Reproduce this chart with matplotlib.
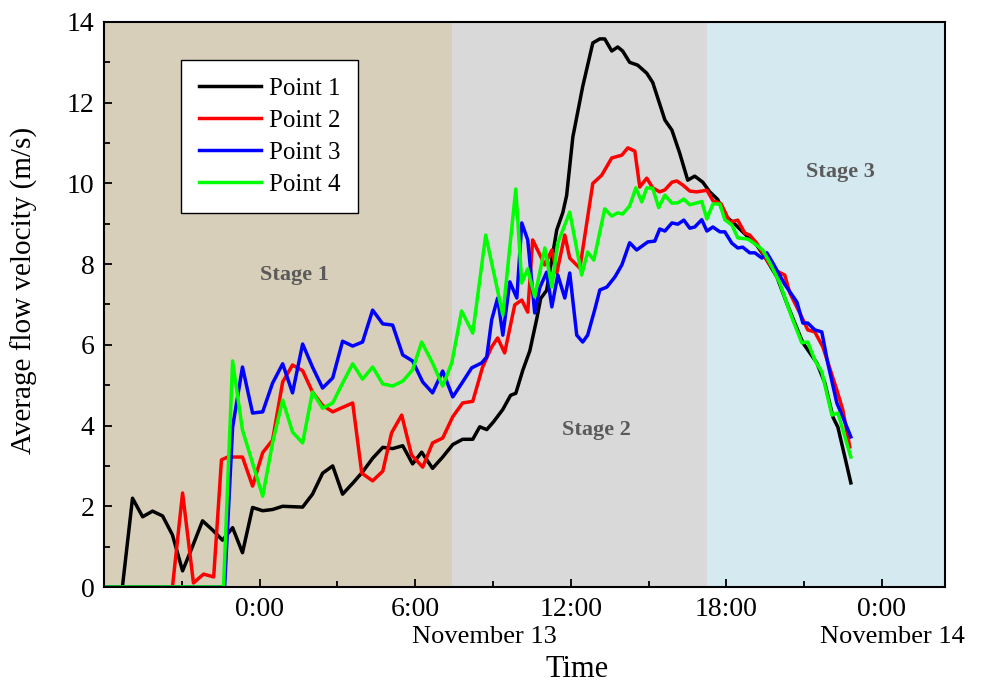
import numpy as np
import matplotlib.pyplot as plt
from matplotlib.transforms import blended_transform_factory

plt.rcParams['font.family'] = ['Liberation Serif', 'DejaVu Serif']

# hours relative to 0:00 on November 13, velocity in m/s
t1 = [-6.0, -5.29, -4.90, -4.51, -4.13, -3.74, -3.36, -2.97, -2.59, -2.20, -1.81, -1.43, -1.04,
      -0.66, -0.27, 0.12, 0.50, 0.89, 1.27, 1.66, 2.04, 2.43, 2.82, 3.20, 3.59, 3.97, 4.36, 4.75,
      5.13, 5.52, 5.90, 6.25, 6.67, 7.06, 7.45, 7.83, 8.22, 8.49, 8.76, 9.03, 9.38, 9.68, 9.88,
      10.15, 10.42, 10.69, 10.84, 11.07, 11.46, 11.69, 11.84, 12.08, 12.46, 12.85, 13.12, 13.31,
      13.58, 13.81, 14.00, 14.27, 14.58, 14.93, 15.16, 15.63, 15.90, 16.20, 16.51, 16.78, 17.09,
      17.36, 17.67, 17.94, 18.25, 18.63, 19.17, 19.56, 19.95, 20.33, 20.64, 20.95, 21.22, 21.49,
      21.80, 22.11, 22.30, 22.57, 22.80]
v1 = [0, 0, 2.2, 1.74, 1.88, 1.76, 1.29, 0.40, 1.0, 1.64, 1.41, 1.16, 1.47,
      0.85, 1.97, 1.89, 1.92, 2.0, 1.99, 1.98, 2.30, 2.82, 3.0, 2.30, 2.57, 2.85, 3.19, 3.46,
      3.43, 3.5, 3.05, 3.34, 2.94, 3.22, 3.53, 3.66, 3.66, 3.97, 3.9, 4.1, 4.4, 4.75, 4.8,
      5.37, 5.85, 6.65, 7.15, 7.35, 8.85, 9.27, 9.7, 11.15, 12.4, 13.48, 13.58, 13.58,
      13.28, 13.38, 13.28, 13.0, 12.93, 12.73, 12.5, 11.57, 11.32, 10.75, 10.08, 10.18, 10.03,
      9.79, 9.6, 9.2, 9.04, 8.8, 8.47, 8.1, 7.68, 7.03, 6.54, 6.05, 5.8, 5.55,
      5.05, 4.21, 3.96, 3.22, 2.58]

t2 = [-6.0, -3.36, -2.97, -2.55, -2.16, -1.77, -1.47, -1.23, -0.66, -0.27, 0.12, 0.50, 0.89,
      1.27, 1.66, 2.04, 2.43, 2.82, 3.20, 3.59, 3.94, 4.36, 4.75, 5.09, 5.48, 5.86, 6.29, 6.67,
      7.06, 7.45, 7.83, 8.22, 8.60, 8.95, 9.18, 9.45, 9.84, 10.11, 10.34, 10.53, 11.0, 11.27,
      11.46, 11.77, 11.96, 12.35, 12.85, 13.19, 13.58, 13.97, 14.20, 14.47, 14.66, 14.93, 15.16,
      15.43, 15.63, 15.90, 16.09, 16.32, 16.59, 16.86, 17.25, 17.48, 17.79, 17.98, 18.13, 18.44,
      18.71, 18.90, 19.17, 19.68, 19.87, 20.25, 20.45, 20.83, 21.14, 21.41, 21.72, 22.26, 22.49,
      22.76]
v2 = [0, 0, 2.33, 0.1, 0.32, 0.25, 3.15, 3.22, 3.22, 2.5, 3.33, 3.64, 5.08,
      5.5, 5.36, 4.83, 4.5, 4.34, 4.45, 4.56, 2.82, 2.63, 2.87, 3.82, 4.26, 3.27, 2.97, 3.57,
      3.69, 4.22, 4.56, 4.6, 5.45, 5.95, 6.17, 5.8, 6.99, 7.11, 6.81, 8.6, 7.98, 8.35,
      7.78, 8.72, 8.15, 7.9, 10.0, 10.2, 10.63, 10.7, 10.88, 10.8, 9.91, 10.13, 9.89,
      9.79, 9.84, 10.03, 10.06, 9.96, 9.81, 9.79, 9.83, 9.57, 9.5, 9.25, 9.04, 9.09,
      8.77, 8.72, 8.52, 7.98, 7.85, 7.73, 7.28, 6.79, 6.37, 6.32, 5.95, 4.88, 4.39,
      3.47]

t3 = [-6.0, -1.35, -1.04, -0.66, -0.27, 0.12, 0.50, 0.89, 1.27, 1.66, 2.04, 2.43, 2.82, 3.20,
      3.59, 3.97, 4.36, 4.75, 5.13, 5.52, 5.90, 6.29, 6.67, 7.06, 7.45, 7.83, 8.18, 8.56, 8.76,
      8.95, 9.18, 9.38, 9.65, 9.92, 10.11, 10.34, 10.61, 10.80, 11.07, 11.27, 11.50, 11.77, 11.96,
      12.23, 12.46, 12.65, 12.92, 13.12, 13.39, 13.70, 13.97, 14.27, 14.54, 14.97, 15.24, 15.43,
      15.63, 15.90, 16.13, 16.36, 16.59, 16.78, 17.05, 17.25, 17.48, 17.75, 17.94, 18.21, 18.44,
      18.63, 18.90, 19.10, 19.37, 19.56, 19.79, 20.25, 20.72, 20.95, 21.14, 21.41, 21.68, 21.91,
      22.26, 22.49, 22.80]
v3 = [0, 0, 3.96, 5.45, 4.31, 4.34, 5.05, 5.53, 4.81, 6.02, 5.45, 4.93, 5.18, 6.09,
      5.97, 6.07, 6.86, 6.52, 6.49, 5.75, 5.6, 5.08, 4.81, 5.35, 4.71, 5.08, 5.43, 5.55, 5.7,
      6.62, 7.16, 6.24, 7.56, 7.16, 9.02, 8.6, 6.79, 7.41, 7.8, 6.94, 7.73, 7.16, 7.78,
      6.24, 6.07, 6.24, 6.86, 7.36, 7.43, 7.68, 7.98, 8.53, 8.35, 8.55, 8.57, 8.87,
      8.82, 9.02, 8.99, 9.09, 8.89, 8.92, 9.1, 8.82, 8.92, 8.8, 8.8, 8.52, 8.4,
      8.42, 8.28, 8.28, 8.15, 8.28, 8.03, 7.5, 7.06, 6.54, 6.54, 6.37, 6.32, 5.55,
      4.56, 4.21, 3.72]

t4 = [-6.0, -1.39, -1.04, -0.66, -0.27, 0.12, 0.50, 0.89, 1.27, 1.66, 2.04, 2.43, 2.82, 3.20,
      3.59, 3.97, 4.36, 4.75, 5.13, 5.52, 5.90, 6.25, 6.67, 7.06, 7.41, 7.79, 8.22, 8.72, 9.38,
      9.88, 10.11, 10.34, 10.61, 11.0, 11.27, 11.50, 11.96, 12.42, 12.65, 12.89, 13.31, 13.58,
      13.81, 14.0, 14.27, 14.51, 14.74, 14.93, 15.16, 15.39, 15.63, 15.90, 16.13, 16.36, 16.59,
      17.05, 17.25, 17.48, 17.75, 17.94, 18.21, 18.44, 18.83, 19.17, 19.40, 19.68, 20.06, 20.33,
      20.56, 20.91, 21.14, 21.41, 21.68, 22.07, 22.30, 22.80]
v4 = [0, 0, 5.6, 3.89, 3.07, 2.25, 3.57, 4.63, 3.84, 3.57, 4.83, 4.43, 4.56, 5.05,
      5.53, 5.15, 5.45, 5.03, 4.98, 5.1, 5.38, 6.07, 5.55, 4.98, 5.55, 6.84, 6.29, 8.72, 6.74,
      9.86, 7.53, 7.88, 7.19, 8.4, 7.43, 8.52, 9.29, 7.73, 8.3, 8.1, 9.37, 9.19,
      9.27, 9.24, 9.44, 9.89, 9.54, 9.89, 9.88, 9.4, 9.71, 9.51, 9.52, 9.61, 9.47,
      9.55, 9.12, 9.49, 9.49, 9.1, 8.97, 8.65, 8.62, 8.47, 8.35, 8.03, 7.53, 7.03,
      6.62, 6.05, 6.07, 5.62, 5.33, 4.26, 4.31, 3.22]

# stage spans in hours, with label positions
stages = [(-6.0, 7.41, '#D8CFBA', 'Stage 1', 1.35, 7.73),
          (7.41, 17.25, '#D9D9D9', 'Stage 2', 13.0, 3.9),
          (17.25, 26.43, '#D5EAF0', 'Stage 3', 22.4, 10.28)]

tick_hours = [0, 6, 12, 18, 24]
tick_labels = ['0:00', '6:00', '12:00', '18:00', '0:00']

fig = plt.figure(figsize=(9.82, 6.86), dpi=100)
ax = fig.add_axes([0.1059, 0.1443, 0.8564, 0.8237])

for x0, x1, col, name, tx, ty in stages:
    ax.axvspan(x0, x1, color=col, lw=0, zorder=0)
    ax.text(tx, ty, name, ha='center', va='center', fontsize=16,
            fontweight='bold', color='#5a5a5a')

ax.plot(t1, v1, color='black', lw=2.5, label='Point 1')
ax.plot(t2, v2, color='#ff0000', lw=2.5, label='Point 2')
ax.plot(t3, v3, color='#0000ff', lw=2.5, label='Point 3')
ax.plot(t4, v4, color='#00ff00', lw=2.5, label='Point 4')

ax.set_xlim(-6.0, 26.43)
ax.set_ylim(0, 14)
ax.set_xticks(tick_hours)
ax.set_xticklabels(tick_labels)
ax.set_xticks(np.arange(-3, 27, 3), minor=True)
ax.set_yticks(np.arange(0, 15, 2))
ax.set_yticks(np.arange(1, 14, 2), minor=True)
ax.tick_params(which='both', direction='in', labelsize=20, width=1.3)
ax.tick_params(which='major', length=6, pad=7)
ax.tick_params(which='minor', length=4)
for s in ax.spines.values():
    s.set_linewidth(1.5)

tr = blended_transform_factory(ax.transData, ax.transAxes)
ax.text(8.68, -0.088, 'November 13', transform=tr, ha='center', va='center', fontsize=19)
ax.text(24.4, -0.088, 'November 14', transform=tr, ha='center', va='center', fontsize=19)
ax.text(0.562, -0.146, 'Time', transform=ax.transAxes, ha='center', va='center', fontsize=22)
ax.set_ylabel('Average flow velocity (m/s)', fontsize=21)
ax.yaxis.set_label_coords(-0.078, 0.525)

leg = ax.legend(loc='upper left', bbox_to_anchor=(0.0916, 0.933), borderaxespad=0,
                fontsize=18, fancybox=False, edgecolor='black', framealpha=1,
                handlelength=2.5, handletextpad=0.3, labelspacing=0.38, borderpad=0.7)
leg.get_frame().set_linewidth(1.0)

fig.savefig('out.png', dpi=100)
